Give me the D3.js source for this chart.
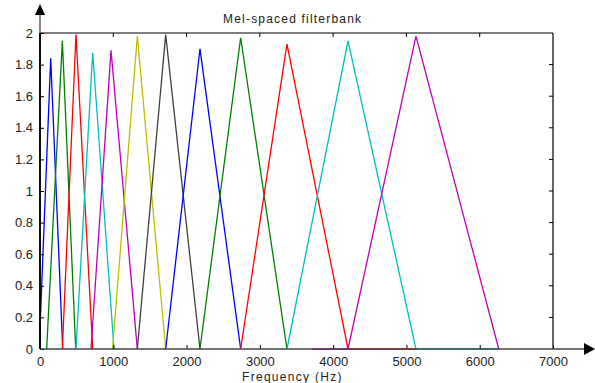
<!doctype html>
<html>
<head>
  <meta charset="utf-8" />
  <script src="https://cdn.jsdelivr.net/npm/d3@7"></script>
  <style>
  body{
    margin: 0;
    background: #ffffff;
    font-family: "Liberation Sans", Arial, sans-serif;
  }
  .tick text{
    font-size: 13px;
    fill: #222;
  }
  .filter{
    fill: none;
    stroke-width: 1.3;
  }
  </style>
</head>
<body>
  <div id="viz"></div>

  <script>
  // filter edges and peaks (Hz)
  var lowerEdges = [0, 91, 305, 491, 696, 990, 1328, 1715, 2183, 2738, 3370, 4203];
  var centres    = [146, 305, 491, 719, 969, 1328, 1715, 2183, 2738, 3370, 4203, 5130];
  var upperEdges = [310, 487, 719, 1010, 1328, 1715, 2183, 2738, 3370, 4203, 5130, 6260];
  var peaks      = [1.84, 1.95, 1.99, 1.875, 1.89, 1.98, 1.99, 1.90, 1.97, 1.93, 1.95, 1.98];
  var startAt    = [0.13, 0, 0, 0, 0, 0, 0, 0, 0, 0, 0, 0];
  // where the zero part of a line keeps going along the axis
  var zeroFrom   = [0, 91, 305, 491, 696, 990, 1328, 1715, 2183, 2738, 3370, 3710];
  var zeroTo     = [310, 487, 719, 1010, 1328, 1715, 2183, 2738, 3370, 5130, 6260, 6260];

  var colours = ['#0000ff', '#008000', '#ff0000', '#00bfbf', '#bf00bf', '#bfbf00', '#404040'];

  var xTicks = [0, 1000, 2000, 3000, 4000, 5000, 6000, 7000];
  var yTicks = [0, 0.2, 0.4, 0.6, 0.8, 1, 1.2, 1.4, 1.6, 1.8, 2];

  var width = 595, height = 383;
  var mLeft = 40, mRight = 553, mTop = 33, mBottom = 349;

  var svg = d3.select("#viz")
    .append("svg")
    .attr("width", width)
    .attr("height", height);

  var x = d3.scaleLinear().domain([0, 7000]).range([mLeft, mRight]);
  var y = d3.scaleLinear().domain([0, 2]).range([mBottom, mTop]);

  // filters
  var line = d3.line()
    .x(function(d){ return x(d[0]); })
    .y(function(d){ return y(d[1]); });

  svg.append("g")
    .selectAll("path")
    .data(centres)
    .enter().append("path")
    .attr("class", "filter")
    .attr("stroke", function(d, i){ return colours[i % colours.length]; })
    .attr("d", function(d, i){
      var pts = [];
      if (zeroFrom[i] < lowerEdges[i]) pts.push([zeroFrom[i], 0]);
      if (startAt[i] > 0) pts.push([lowerEdges[i], 0]);
      pts.push([lowerEdges[i], startAt[i]]);
      pts.push([centres[i], peaks[i]]);
      pts.push([upperEdges[i], 0]);
      if (zeroTo[i] > upperEdges[i]) pts.push([zeroTo[i], 0]);
      return line(pts);
    });

  // box: top and right with inward ticks
  svg.append("line")
    .attr("x1", mLeft).attr("x2", mRight).attr("y1", mTop).attr("y2", mTop)
    .attr("stroke", "#000").attr("stroke-width", 1.2);
  svg.append("line")
    .attr("x1", mRight).attr("x2", mRight).attr("y1", mTop).attr("y2", mBottom)
    .attr("stroke", "#000").attr("stroke-width", 1.2);

  svg.append("g").selectAll("line")
    .data(xTicks.slice(1, -1))
    .enter().append("line")
    .attr("x1", function(d){ return x(d); }).attr("x2", function(d){ return x(d); })
    .attr("y1", mTop).attr("y2", mTop + 4)
    .attr("stroke", "#000");
  svg.append("g").selectAll("line")
    .data(yTicks.slice(1, -1))
    .enter().append("line")
    .attr("x1", mRight - 4).attr("x2", mRight)
    .attr("y1", function(d){ return y(d); }).attr("y2", function(d){ return y(d); })
    .attr("stroke", "#000");

  // axes, ticks pointing inwards
  var xAxis = d3.axisBottom(x).tickValues(xTicks).tickSizeInner(-4).tickSizeOuter(0).tickPadding(8)
    .tickFormat(d3.format("d"));
  var yAxis = d3.axisLeft(y).tickValues(yTicks).tickSizeInner(-4).tickSizeOuter(0).tickPadding(7)
    .tickFormat(function(d){ return String(d); });

  var gx = svg.append("g")
    .attr("transform", "translate(0," + mBottom + ")")
    .call(xAxis);
  var gy = svg.append("g")
    .attr("transform", "translate(" + mLeft + ",0)")
    .call(yAxis);

  gx.select(".domain").remove();
  gy.select(".domain").remove();
  gx.selectAll(".tick text").attr("font-family", null).attr("font-size", null);
  gy.selectAll(".tick text").attr("font-family", null).attr("font-size", null);
  gx.selectAll(".tick line").attr("stroke", "#000");
  gy.selectAll(".tick line").attr("stroke", "#000");

  // axis lines with arrows
  svg.append("line")
    .attr("x1", mLeft).attr("x2", 584).attr("y1", mBottom).attr("y2", mBottom)
    .attr("stroke", "#444").attr("stroke-width", 1.5);
  svg.append("line")
    .attr("x1", mLeft).attr("x2", mLeft).attr("y1", mBottom).attr("y2", 14)
    .attr("stroke", "#444").attr("stroke-width", 1.3);
  svg.append("line")
    .attr("x1", mLeft).attr("x2", mLeft).attr("y1", mBottom).attr("y2", mTop)
    .attr("stroke", "#000").attr("stroke-width", 1.8);

  svg.append("path")
    .attr("d", "M584," + (mBottom - 6) + "L595," + mBottom + "L584," + (mBottom + 6) + "Z")
    .attr("fill", "#000");
  svg.append("path")
    .attr("d", "M" + (mLeft - 5) + ",15L" + mLeft + ",4L" + (mLeft + 5) + ",15Z")
    .attr("fill", "#000");

  // texts
  svg.append("text")
    .attr("x", 223).attr("y", 23)
    .attr("font-size", "12px")
    .attr("letter-spacing", "1.2px")
    .attr("fill", "#222")
    .text("Mel-spaced filterbank");

  svg.append("text")
    .attr("x", 242).attr("y", 381)
    .attr("font-size", "12px")
    .attr("letter-spacing", "1.3px")
    .attr("fill", "#222")
    .text("Frequency (Hz)");
  </script>
</body>
</html>
